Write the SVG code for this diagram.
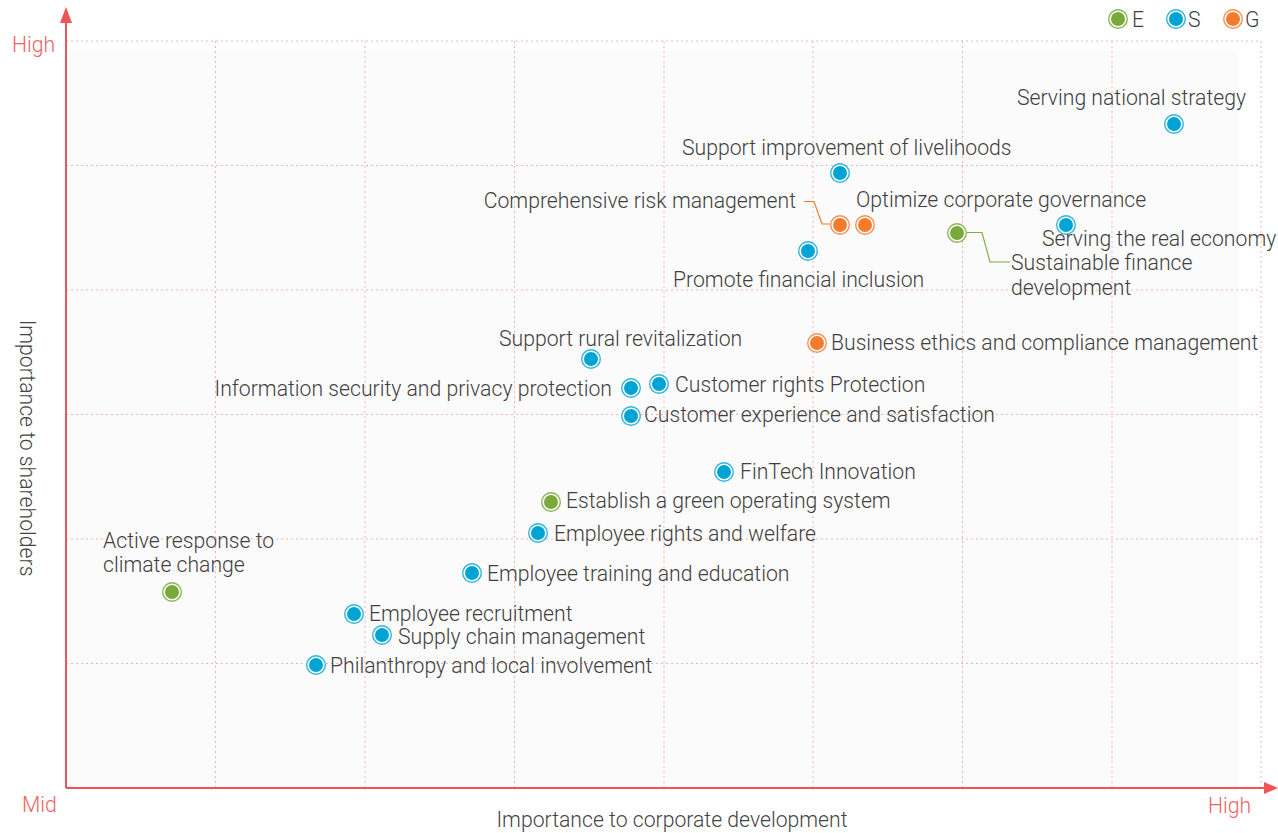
<svg xmlns="http://www.w3.org/2000/svg" width="1278" height="833" viewBox="0 0 1278 833">
<defs>
<style>
.lbl{font-family:Roboto,"Liberation Sans",sans-serif;font-weight:300;font-size:21.2px;fill:#3f3f3f}
.ax{font-family:Roboto,"Liberation Sans",sans-serif;font-weight:300;font-size:21.2px;fill:#f06262}
.axt{font-family:Roboto,"Liberation Sans",sans-serif;font-weight:300;font-size:21.2px;fill:#444}
.grid{stroke:#f5b5ae;stroke-width:1;stroke-dasharray:2 3;fill:none}
.E .o{fill:#fff;stroke:#8ab556;stroke-width:1.4}.E .i{fill:#78a93a}
.S .o{fill:#fff;stroke:#2fb5de;stroke-width:1.4}.S .i{fill:#00a4d4}
.G .o{fill:#fff;stroke:#f69155;stroke-width:1.4}.G .i{fill:#f47a2e}
.conE{stroke:#7fae45;stroke-width:1.2;fill:none}
.conG{stroke:#f47a2e;stroke-width:1.2;fill:none}
</style>
</defs>
<rect x="0" y="0" width="1278" height="833" fill="#fff"/>
<rect x="66" y="50" width="1172" height="738" fill="#fbfbfb"/>
<g id="grid">
<path class="grid" d="M66 41H1261M66 165.5H1261M66 290H1261M66 414.5H1261M66 539H1261M66 663.5H1261"/>
<path class="grid" d="M215.5 41V788M365 41V788M514.5 41V788M664 41V788M813 41V788M962.5 41V788M1112 41V788M1261 41V788"/>
</g>
<g id="axes">
<path d="M66 788V20M66 788H1266" stroke="#f05555" stroke-width="2" fill="none"/>
<path d="M66 7L60 23H72Z" fill="#f05555"/>
<path d="M1278 788L1264 782V794Z" fill="#f05555"/>
<text class="ax" x="12" y="52">High</text>
<text class="ax" x="22" y="812">Mid</text>
<text class="ax" x="1208" y="813">High</text>
<text class="axt" x="672" y="827" text-anchor="middle">Importance to corporate development</text>
<text class="axt" transform="translate(20,448) rotate(90)" text-anchor="middle">Importance to shareholders</text>
</g>
<g id="legend">
<g class="E" transform="translate(1118,19)"><circle class="o" r="9.3"/><circle class="i" r="7"/></g>
<text class="lbl" x="1132" y="27">E</text>
<g class="S" transform="translate(1176,19)"><circle class="o" r="9.3"/><circle class="i" r="7"/></g>
<text class="lbl" x="1188" y="27">S</text>
<g class="G" transform="translate(1233,19)"><circle class="o" r="9.3"/><circle class="i" r="7"/></g>
<text class="lbl" x="1245" y="27">G</text>
</g>
<g id="connectors">
<path class="conG" d="M804 201.5H814L822 224H830"/>
<path class="conE" d="M967 232.5H982L990 262H1010"/>
</g>
<g id="n1" class="S"><circle class="o" cx="1174" cy="124" r="9.3"/><circle class="i" cx="1174" cy="124" r="7"/><text class="lbl" x="1017" y="105">Serving national strategy</text></g>
<g id="n2" class="S"><circle class="o" cx="840" cy="173" r="9.3"/><circle class="i" cx="840" cy="173" r="7"/><text class="lbl" x="682" y="155">Support improvement of livelihoods</text></g>
<g id="n3" class="G"><circle class="o" cx="840" cy="225" r="9.3"/><circle class="i" cx="840" cy="225" r="7"/><text class="lbl" x="796" y="208" text-anchor="end">Comprehensive risk management</text></g>
<g id="n4" class="G"><circle class="o" cx="865" cy="225" r="9.3"/><circle class="i" cx="865" cy="225" r="7"/><text class="lbl" x="856" y="207">Optimize corporate governance</text></g>
<g id="n5" class="S"><circle class="o" cx="1066" cy="225" r="9.3"/><circle class="i" cx="1066" cy="225" r="7"/><text class="lbl" x="1042" y="246">Serving the real economy</text></g>
<g id="n6" class="E"><circle class="o" cx="957" cy="233" r="9.3"/><circle class="i" cx="957" cy="233" r="7"/><text class="lbl" x="1011" y="270">Sustainable finance</text><text class="lbl" x="1011" y="295">development</text></g>
<g id="n7" class="S"><circle class="o" cx="808" cy="251" r="9.3"/><circle class="i" cx="808" cy="251" r="7"/><text class="lbl" x="673" y="287">Promote financial inclusion</text></g>
<g id="n8" class="S"><circle class="o" cx="591" cy="359" r="9.3"/><circle class="i" cx="591" cy="359" r="7"/><text class="lbl" x="499" y="346">Support rural revitalization</text></g>
<g id="n9" class="S"><circle class="o" cx="631" cy="388" r="9.3"/><circle class="i" cx="631" cy="388" r="7"/><text class="lbl" x="612" y="396" text-anchor="end">Information security and privacy protection</text></g>
<g id="n10" class="S"><circle class="o" cx="659" cy="384" r="9.3"/><circle class="i" cx="659" cy="384" r="7"/><text class="lbl" x="675" y="392">Customer rights Protection</text></g>
<g id="n11" class="S"><circle class="o" cx="631" cy="416" r="9.3"/><circle class="i" cx="631" cy="416" r="7"/><text class="lbl" x="644" y="422">Customer experience and satisfaction</text></g>
<g id="n12" class="G"><circle class="o" cx="817" cy="343" r="9.3"/><circle class="i" cx="817" cy="343" r="7"/><text class="lbl" x="831" y="350">Business ethics and compliance management</text></g>
<g id="n13" class="S"><circle class="o" cx="724" cy="472" r="9.3"/><circle class="i" cx="724" cy="472" r="7"/><text class="lbl" x="740" y="479">FinTech Innovation</text></g>
<g id="n14" class="E"><circle class="o" cx="551" cy="502" r="9.3"/><circle class="i" cx="551" cy="502" r="7"/><text class="lbl" x="566" y="508">Establish a green operating system</text></g>
<g id="n15" class="S"><circle class="o" cx="538" cy="533" r="9.3"/><circle class="i" cx="538" cy="533" r="7"/><text class="lbl" x="554" y="541">Employee rights and welfare</text></g>
<g id="n16" class="E"><circle class="o" cx="172" cy="592" r="9.3"/><circle class="i" cx="172" cy="592" r="7"/><text class="lbl" x="103" y="548">Active response to</text><text class="lbl" x="103" y="572">climate change</text></g>
<g id="n17" class="S"><circle class="o" cx="472" cy="573" r="9.3"/><circle class="i" cx="472" cy="573" r="7"/><text class="lbl" x="487" y="581">Employee training and education</text></g>
<g id="n18" class="S"><circle class="o" cx="354" cy="614" r="9.3"/><circle class="i" cx="354" cy="614" r="7"/><text class="lbl" x="369" y="621">Employee recruitment</text></g>
<g id="n19" class="S"><circle class="o" cx="382" cy="635" r="9.3"/><circle class="i" cx="382" cy="635" r="7"/><text class="lbl" x="398" y="644">Supply chain management</text></g>
<g id="n20" class="S"><circle class="o" cx="316" cy="665" r="9.3"/><circle class="i" cx="316" cy="665" r="7"/><text class="lbl" x="330" y="673">Philanthropy and local involvement</text></g>
</svg>
